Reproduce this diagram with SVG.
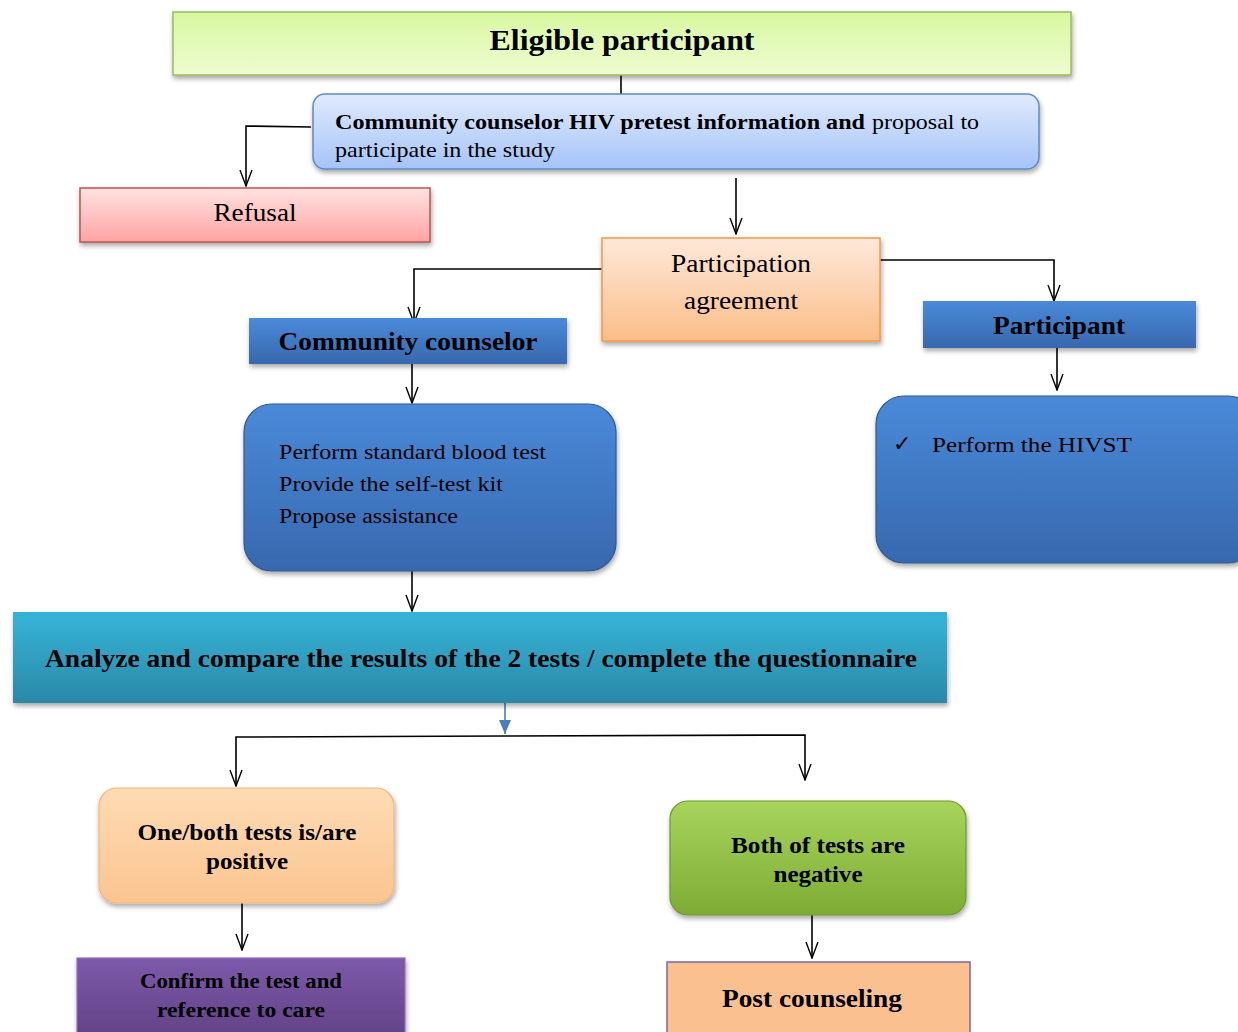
<svg xmlns="http://www.w3.org/2000/svg" width="1238" height="1032" viewBox="0 0 1238 1032">
<defs>
<style>
text{font-family:"Liberation Serif","Times New Roman",serif;fill:#000}
.b{font-weight:bold}
.c{stroke:#000;stroke-width:1.6;fill:none}
</style>
<filter id="sh" x="-10%" y="-10%" width="125%" height="135%">
<feDropShadow dx="1" dy="3" stdDeviation="2.5" flood-color="#000" flood-opacity="0.35"/>
</filter>
<linearGradient id="gGreen" x1="0" y1="0" x2="0" y2="1"><stop offset="0" stop-color="#d8f8a0"/><stop offset="1" stop-color="#eefcd0"/></linearGradient>
<linearGradient id="gLBlue" x1="0" y1="0" x2="0" y2="1"><stop offset="0" stop-color="#e0eafd"/><stop offset="1" stop-color="#a5c4f8"/></linearGradient>
<linearGradient id="gPink" x1="0" y1="0" x2="0" y2="1"><stop offset="0" stop-color="#ffe2e2"/><stop offset="1" stop-color="#ffa3a3"/></linearGradient>
<linearGradient id="gOrange" x1="0" y1="0" x2="0" y2="1"><stop offset="0" stop-color="#fee9da"/><stop offset="1" stop-color="#fbbd88"/></linearGradient>
<linearGradient id="gBlue" x1="0" y1="0" x2="0" y2="1"><stop offset="0" stop-color="#4a8ad9"/><stop offset="1" stop-color="#3768ae"/></linearGradient>
<linearGradient id="gTeal" x1="0" y1="0" x2="0" y2="1"><stop offset="0" stop-color="#36b4d8"/><stop offset="1" stop-color="#2a89a7"/></linearGradient>
<linearGradient id="gPeach" x1="0" y1="0" x2="0" y2="1"><stop offset="0" stop-color="#fedbb4"/><stop offset="1" stop-color="#fbc590"/></linearGradient>
<linearGradient id="gLime" x1="0" y1="0" x2="0" y2="1"><stop offset="0" stop-color="#a8d45c"/><stop offset="1" stop-color="#7dac34"/></linearGradient>
<linearGradient id="gPurple" x1="0" y1="0" x2="0" y2="1"><stop offset="0" stop-color="#7d5aaa"/><stop offset="1" stop-color="#614185"/></linearGradient>
<marker id="av" markerUnits="userSpaceOnUse" markerWidth="18" markerHeight="14" viewBox="0 0 18 14" refX="17" refY="7" orient="auto">
<path d="M1,1 L17,7 L1,13" fill="none" stroke="#000" stroke-width="1.4"/>
</marker>
<marker id="ab" markerUnits="userSpaceOnUse" markerWidth="14" markerHeight="12" viewBox="0 0 14 12" refX="14" refY="6" orient="auto">
<path d="M0,0 L14,6 L0,12 Z" fill="#4a7ebb"/>
</marker>
</defs>

<g id="connectors">
<line class="c" x1="621" y1="75" x2="621" y2="94"/>
<polyline class="c" points="311,127 246,126 246,186" marker-end="url(#av)"/>
<line class="c" x1="736" y1="178" x2="736" y2="234" marker-end="url(#av)"/>
<polyline class="c" points="602,269 414,269 414,323" marker-end="url(#av)"/>
<polyline class="c" points="880,260 1054,260 1054,301" marker-end="url(#av)"/>
<line class="c" x1="412" y1="364" x2="412" y2="403" marker-end="url(#av)"/>
<line class="c" x1="1057" y1="348" x2="1057" y2="390" marker-end="url(#av)"/>
<line class="c" x1="412" y1="571" x2="412" y2="611" marker-end="url(#av)"/>
<line x1="505" y1="698" x2="505" y2="734" stroke="#4a7ebb" stroke-width="1.6" marker-end="url(#ab)"/>
<polyline class="c" points="505,736 236,737 236,786" marker-end="url(#av)"/>
<polyline class="c" points="505,736 805,735 805,780" marker-end="url(#av)"/>
<line class="c" x1="242" y1="903" x2="242" y2="950" marker-end="url(#av)"/>
<line class="c" x1="812" y1="910" x2="812" y2="958" marker-end="url(#av)"/>
</g>

<g id="eligible">
<rect x="173" y="12" width="898" height="63" fill="url(#gGreen)" stroke="#9bbb59" stroke-width="1.5" filter="url(#sh)"/>
<text class="b" x="622" y="50" font-size="30" text-anchor="middle" textLength="265" lengthAdjust="spacingAndGlyphs">Eligible participant</text>
</g>

<g id="pretest">
<rect x="313" y="94" width="726" height="75" rx="12" fill="url(#gLBlue)" stroke="#5b8bc9" stroke-width="1.5" filter="url(#sh)"/>
<text class="b" x="335" y="129" font-size="22" textLength="530" lengthAdjust="spacingAndGlyphs">Community counselor HIV pretest information and</text>
<text x="872" y="129" font-size="22" textLength="107" lengthAdjust="spacingAndGlyphs">proposal to</text>
<text x="335" y="157" font-size="22" textLength="220" lengthAdjust="spacingAndGlyphs">participate in the study</text>
</g>

<g id="refusal">
<rect x="80" y="188" width="350" height="54" fill="url(#gPink)" stroke="#c0504d" stroke-width="1.5" filter="url(#sh)"/>
<text x="255" y="221" font-size="25" text-anchor="middle" textLength="83" lengthAdjust="spacingAndGlyphs">Refusal</text>
</g>

<g id="agreement">
<rect x="602" y="238" width="278" height="103" fill="url(#gOrange)" stroke="#f79646" stroke-width="1.5" filter="url(#sh)"/>
<text x="741" y="272" font-size="25" text-anchor="middle" textLength="140" lengthAdjust="spacingAndGlyphs">Participation</text>
<text x="741" y="309" font-size="25" text-anchor="middle" textLength="114" lengthAdjust="spacingAndGlyphs">agreement</text>
</g>

<g id="counselor">
<rect x="249" y="318" width="318" height="46" fill="url(#gBlue)" filter="url(#sh)"/>
<text class="b" x="408" y="350" font-size="26" text-anchor="middle" textLength="259" lengthAdjust="spacingAndGlyphs">Community counselor</text>
</g>

<g id="participant">
<rect x="923" y="301" width="273" height="47" fill="url(#gBlue)" filter="url(#sh)"/>
<text class="b" x="1059" y="334" font-size="26" text-anchor="middle" textLength="132" lengthAdjust="spacingAndGlyphs">Participant</text>
</g>

<g id="counselor-tasks">
<rect x="244" y="404" width="372" height="167" rx="28" fill="url(#gBlue)" stroke="#2f5a93" stroke-width="1.2" filter="url(#sh)"/>
<text x="279" y="459" font-size="22" textLength="267" lengthAdjust="spacingAndGlyphs">Perform standard blood test</text>
<text x="279" y="491" font-size="22" textLength="224" lengthAdjust="spacingAndGlyphs">Provide the self-test kit</text>
<text x="279" y="523" font-size="22" textLength="179" lengthAdjust="spacingAndGlyphs">Propose assistance</text>
</g>

<g id="participant-tasks">
<rect x="876" y="396" width="380" height="167" rx="28" fill="url(#gBlue)" stroke="#2f5a93" stroke-width="1.2" filter="url(#sh)"/>
<text x="893" y="451" font-size="22" font-family="DejaVu Sans, sans-serif">✓</text>
<text x="932" y="452" font-size="22" textLength="200" lengthAdjust="spacingAndGlyphs">Perform the HIVST</text>
</g>

<g id="analyze">
<rect x="13" y="612" width="934" height="91" fill="url(#gTeal)" filter="url(#sh)"/>
<text class="b" x="481" y="667" font-size="25" text-anchor="middle" textLength="872" lengthAdjust="spacingAndGlyphs">Analyze and compare the results of the 2 tests / complete the questionnaire</text>
</g>

<g id="positive">
<rect x="99" y="788" width="295" height="115" rx="18" fill="url(#gPeach)" stroke="#f1b77d" stroke-width="1.2" filter="url(#sh)"/>
<text class="b" x="247" y="840" font-size="23" text-anchor="middle" textLength="219" lengthAdjust="spacingAndGlyphs">One/both tests is/are</text>
<text class="b" x="247" y="869" font-size="23" text-anchor="middle" textLength="82" lengthAdjust="spacingAndGlyphs">positive</text>
</g>

<g id="negative">
<rect x="670" y="801" width="296" height="114" rx="18" fill="url(#gLime)" stroke="#6f9a2e" stroke-width="1.2" filter="url(#sh)"/>
<text class="b" x="818" y="853" font-size="23" text-anchor="middle" textLength="174" lengthAdjust="spacingAndGlyphs">Both of tests are</text>
<text class="b" x="818" y="882" font-size="23" text-anchor="middle" textLength="89" lengthAdjust="spacingAndGlyphs">negative</text>
</g>

<g id="confirm">
<rect x="77" y="958" width="328" height="82" fill="url(#gPurple)" stroke="#8e72b8" stroke-width="1.2" filter="url(#sh)"/>
<text class="b" x="241" y="988" font-size="22" text-anchor="middle" textLength="202" lengthAdjust="spacingAndGlyphs">Confirm the test and</text>
<text class="b" x="241" y="1017" font-size="22" text-anchor="middle" textLength="168" lengthAdjust="spacingAndGlyphs">reference to care</text>
</g>

<g id="post">
<rect x="667" y="962" width="303" height="78" fill="#fac090" stroke="#8064a2" stroke-width="1.5"/>
<text class="b" x="812" y="1007" font-size="25" text-anchor="middle" textLength="180" lengthAdjust="spacingAndGlyphs">Post counseling</text>
</g>
</svg>
